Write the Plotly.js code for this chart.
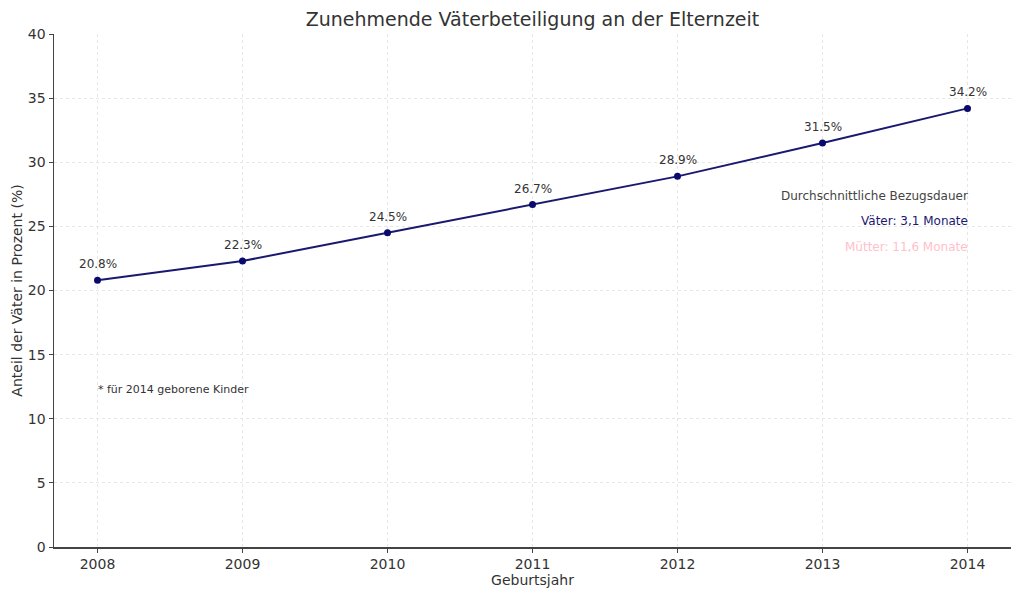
<!DOCTYPE html>
<html><head><meta charset="utf-8">
<script src="https://cdn.plot.ly/plotly-3.0.1.min.js"></script>
<style>body{margin:0;background:#fff}#c{width:1024px;height:597px}</style>
</head><body><div id="c"></div>
<script>
const years = [2008, 2009, 2010, 2011, 2012, 2013, 2014];
const shares = [20.8, 22.3, 24.5, 26.7, 28.9, 31.5, 34.2];
const pointLabels = ["20.8%", "22.3%", "24.5%", "26.7%", "28.9%", "31.5%", "34.2%"];
const yTicks = [0, 5, 10, 15, 20, 25, 30, 35, 40];
const xTicks = years;
const F = "DejaVu Sans, sans-serif";

const trace = {
  x: years, y: shares, mode: "lines+markers",
  line: {color: "#191970", width: 2},
  marker: {color: "#0a0a6e", size: 7},
  cliponaxis: false, hoverinfo: "skip"
};

const labelAnns = years.map((yr, i) => ({
  x: yr, y: shares[i], xref: "x", yref: "y", text: pointLabels[i], showarrow: false,
  xanchor: "center", yanchor: "middle", yshift: 16,
  font: {family: F, size: 12, color: "#333"}
}));

const layout = {
  width: 1024, height: 597,
  margin: {l: 54, r: 13, t: 34, b: 50},
  paper_bgcolor: "#fff", plot_bgcolor: "#fff",
  showlegend: false,
  title: {text: "Zunehmende Väterbeteiligung an der Elternzeit", font: {family: F, size: 19, color: "#333"}, x: 0.52, xanchor: "center", y: 0.978, yanchor: "top"},
  xaxis: {
    range: [2007.7, 2014.3], tickvals: xTicks, ticktext: xTicks.map(String),
    showgrid: true, gridcolor: "#e6e6e6", griddash: "dot", gridwidth: 1,
    showline: true, linecolor: "#444", linewidth: 1.5,
    ticks: "outside", ticklen: 4, tickcolor: "#444",
    tickfont: {family: F, size: 14, color: "#333"}, zeroline: false,
    title: {text: "Geburtsjahr", font: {family: F, size: 14, color: "#333"}, standoff: 2}
  },
  yaxis: {
    range: [0, 40], tickvals: yTicks,
    showgrid: true, gridcolor: "#e6e6e6", griddash: "dot", gridwidth: 1,
    showline: true, linecolor: "#444", linewidth: 1.5,
    ticks: "outside", ticklen: 4, tickcolor: "#444",
    tickfont: {family: F, size: 14, color: "#333"}, zeroline: false,
    title: {text: "Anteil der Väter in Prozent (%)", font: {family: F, size: 14, color: "#333"}, standoff: 2}
  },
  annotations: labelAnns.concat([
    {x: 2014, y: 27.4, xref: "x", yref: "y", text: "Durchschnittliche Bezugsdauer", showarrow: false, xanchor: "right", yanchor: "middle", xshift: 2, font: {family: F, size: 12, color: "#444"}},
    {x: 2014, y: 25.4, xref: "x", yref: "y", text: "Väter: 3,1 Monate", showarrow: false, xanchor: "right", yanchor: "middle", xshift: 2, font: {family: F, size: 12, color: "#191970"}},
    {x: 2014, y: 23.4, xref: "x", yref: "y", text: "Mütter: 11,6 Monate", showarrow: false, xanchor: "right", yanchor: "middle", xshift: 2, font: {family: F, size: 12, color: "#ffc0cb"}},
    {x: 2008, y: 12.3, xref: "x", yref: "y", text: "* für 2014 geborene Kinder", showarrow: false, xanchor: "left", yanchor: "middle", xshift: -2, font: {family: F, size: 11, color: "#333"}}
  ])
};
Plotly.newPlot("c", [trace], layout, {staticPlot: true});
</script></body></html>
